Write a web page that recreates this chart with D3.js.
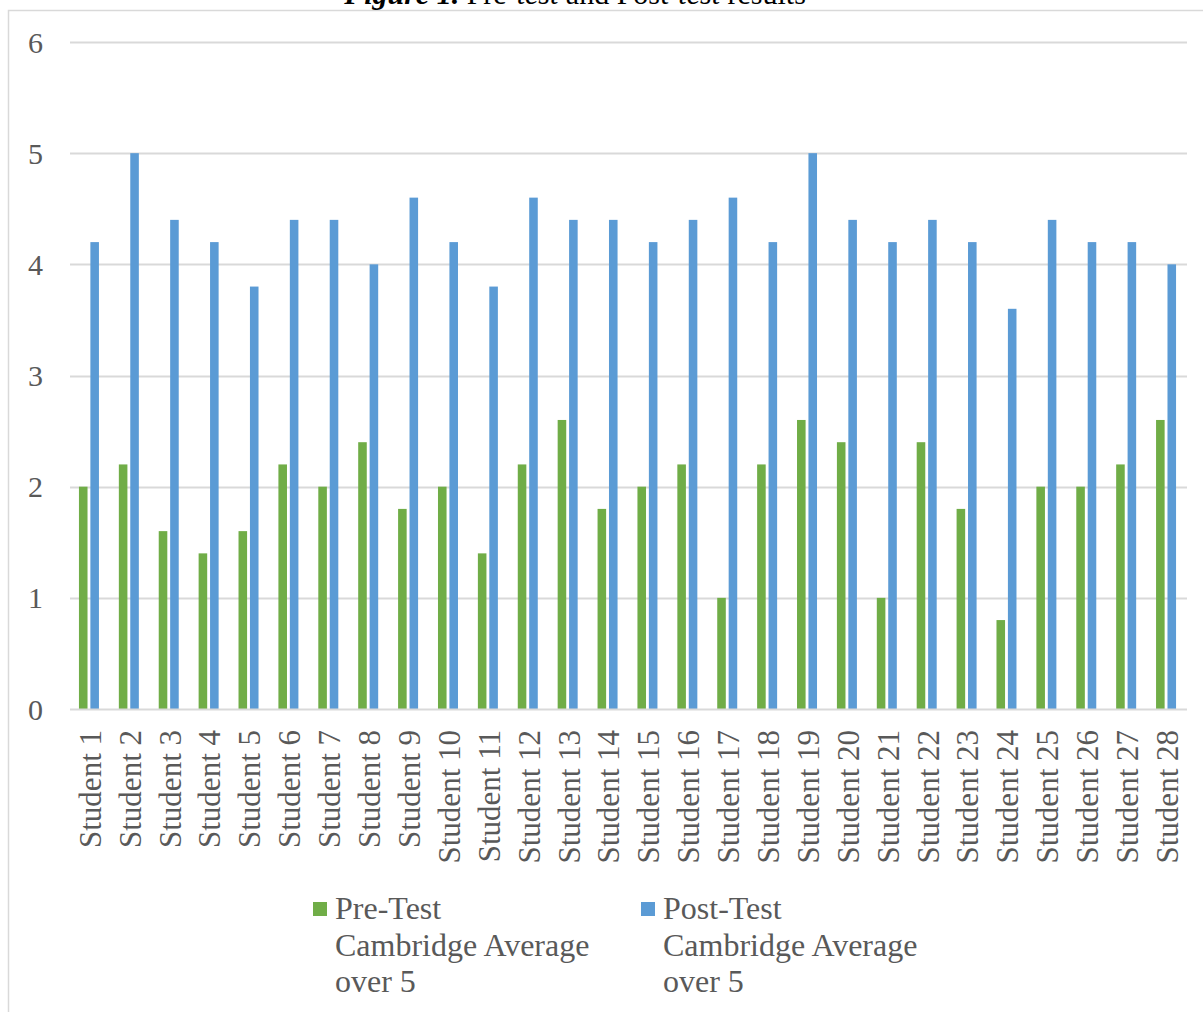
<!DOCTYPE html>
<html>
<head>
<meta charset="utf-8">
<script src="https://cdn.jsdelivr.net/npm/d3@7"></script>
<style>
  html, body { margin: 0; padding: 0; background: #fff; }
  svg { display: block; }
  text { font-family: "Liberation Serif", "Times New Roman", serif; }
</style>
</head>
<body>
<svg id="chart" width="1203" height="1012"></svg>
<script>
const students = ["Student 1","Student 2","Student 3","Student 4","Student 5","Student 6","Student 7","Student 8","Student 9","Student 10","Student 11","Student 12","Student 13","Student 14","Student 15","Student 16","Student 17","Student 18","Student 19","Student 20","Student 21","Student 22","Student 23","Student 24","Student 25","Student 26","Student 27","Student 28"];
const preTest  = [2.0,2.2,1.6,1.4,1.6,2.2,2.0,2.4,1.8,2.0,1.4,2.2,2.6,1.8,2.0,2.2,1.0,2.2,2.6,2.4,1.0,2.4,1.8,0.8,2.0,2.0,2.2,2.6];
const postTest = [4.2,5.0,4.4,4.2,3.8,4.4,4.4,4.0,4.6,4.2,3.8,4.6,4.4,4.4,4.2,4.4,4.6,4.2,5.0,4.4,4.2,4.4,4.2,3.6,4.4,4.2,4.2,4.0];
const yTicks = [0,1,2,3,4,5,6];
const seriesNames = ["pre","post"];
const seriesColors = ["#70AD47","#5B9BD5"];
const legendLines = [["Pre-Test","Cambridge Average","over 5"],["Post-Test","Cambridge Average","over 5"]];

const svg = d3.select("#chart");
const textColor = "#595959";
const gridColor = "#D9D9D9";

// chart border
svg.append("path")
  .attr("d", "M8.5,1012 L8.5,10.5 L1203,10.5")
  .attr("fill","none").attr("stroke", gridColor).attr("stroke-width", 1.5);

// title (partially cropped at top, as in the source)
const title = svg.append("text").attr("x", 575).attr("y", 4).attr("text-anchor","middle")
  .attr("font-size", 30).attr("fill", "#000");
title.append("tspan").attr("font-weight","bold").attr("font-style","italic").text("Figure 1.");
title.append("tspan").text(" Pre-");
title.append("tspan").attr("font-style","italic").text("test");
title.append("tspan").text(" and Post-");
title.append("tspan").attr("font-style","italic").text("test");
title.append("tspan").text(" results");

const x = d3.scaleBand().domain(students).range([70, 1187]).padding(0);
const y = d3.scaleLinear().domain([0, 6]).range([709, 42]);
const inner = d3.scaleBand().domain(seriesNames).range([0, 20]).paddingInner(0.25);

// gridlines
svg.append("g").selectAll("line").data(yTicks.filter(d => d > 0)).join("line")
  .attr("x1", 70).attr("x2", 1187)
  .attr("y1", d => Math.round(y(d)) + 0.5).attr("y2", d => Math.round(y(d)) + 0.5)
  .attr("stroke", gridColor).attr("stroke-width", 2);

// y labels
svg.append("g").selectAll("text").data(yTicks).join("text")
  .attr("x", 43).attr("y", d => y(d)).attr("dy", "0.35em")
  .attr("text-anchor", "end").attr("font-size", 30).attr("fill", textColor)
  .text(d => d);

// bars
const data = students.map((s, i) => ({ s, pre: preTest[i], post: postTest[i] }));
const groups = svg.append("g").selectAll("g").data(data).join("g")
  .attr("transform", d => `translate(${x(d.s) + x.bandwidth()/2 - 11},0)`);
groups.selectAll("rect").data(d => seriesNames.map((k, j) => ({ k, v: d[k], c: seriesColors[j] }))).join("rect")
  .attr("x", d => inner(d.k)).attr("width", inner.bandwidth())
  .attr("y", d => y(d.v)).attr("height", d => y(0) - y(d.v))
  .attr("fill", d => d.c);

// x axis line
svg.append("line").attr("x1", 70).attr("x2", 1187)
  .attr("y1", Math.round(y(0)) + 0.5).attr("y2", Math.round(y(0)) + 0.5)
  .attr("stroke", gridColor).attr("stroke-width", 2);

// x labels
svg.append("g").selectAll("text").data(students).join("text")
  .attr("transform", d => `translate(${x(d) + x.bandwidth()/2},730) rotate(-90)`)
  .attr("dy", "0.35em").attr("text-anchor", "end")
  .attr("font-size", 31).attr("fill", textColor)
  .text(d => d);

// legend
const legendX = [313, 641];
legendLines.forEach((lines, i) => {
  svg.append("rect").attr("x", legendX[i]).attr("y", 902).attr("width", 14).attr("height", 14)
    .attr("fill", seriesColors[i]);
  const t = svg.append("text").attr("font-size", 32).attr("fill", textColor);
  lines.forEach((ln, k) => {
    t.append("tspan").attr("x", legendX[i] + 22).attr("y", 919 + k * 36.5).text(ln);
  });
});
</script>
</body>
</html>
